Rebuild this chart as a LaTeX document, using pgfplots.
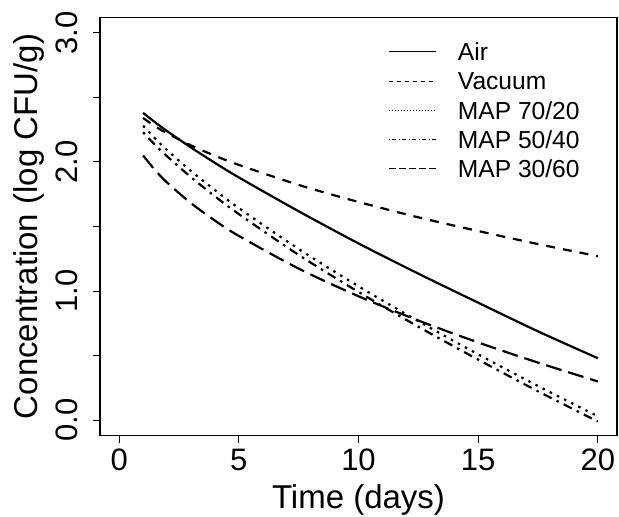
\documentclass[border=0pt]{standalone}
\usepackage{fontspec}
\setmainfont{Liberation Sans}
\usepackage{graphicx}
\usepackage{pgfplots}
\pgfplotsset{compat=1.18}
\begin{document}
\begin{tikzpicture}
\useasboundingbox (0pt,0pt) rectangle (619pt,517pt);
\begin{axis}[
  at={(100pt,81.3pt)}, anchor=south west,
  scale only axis, width=517pt, height=418.4pt,
  xmin=-0.8, xmax=20.8, ymin=-0.12, ymax=3.12,
  axis line style={line width=1.1pt, black},
  tick pos=left, tick align=outside,
  major tick length=7.5pt,
  tick style={line width=1.1pt, black},
  xtick={0,5,10,15,20},
  ytick={0,0.5,1,1.5,2,2.5,3},
  yticklabels={\rotatebox{90}{0.0},,\rotatebox{90}{1.0},,\rotatebox{90}{2.0},,\rotatebox{90}{3.0}},
  /pgf/number format/assume math mode=true,
  ticklabel style={font=\fontsize{31pt}{37pt}\selectfont, inner sep=0pt},
  xticklabel style={anchor=north},
  yticklabel style={anchor=east},
  xticklabel shift=5.8pt,
  yticklabel shift=14.5pt,
  xlabel={Time (days)},
  ylabel={Concentration (log CFU/g)},
  label style={font=\fontsize{33pt}{40pt}\selectfont, inner sep=0pt},
  xlabel style={at={(axis description cs:0.5,-0.1728)}, anchor=base},
  ylabel style={at={(axis description cs:-0.1209,0.5)}, anchor=base},
  legend style={draw=none, fill=none, inner sep=0pt,
    at={(rel axis cs:0.5571,0.9388)}, anchor=north west,
    font=\fontsize{24.6pt}{29pt}\selectfont,
    row sep=11.55pt, column sep=21.7pt,
    nodes={inner sep=0pt, text height=17.6pt, text depth=0pt, anchor=west}},
  legend image code/.code={\draw[#1] (0pt,0pt) -- (47pt,0pt);},
]
% Air
\addplot[forget plot, black, line width=2.2pt, smooth] coordinates {
 (1,2.38) (1.5,2.307) (2,2.239) (3,2.112) (4,1.993) (5,1.880) (7.5,1.618) (10,1.369)
 (12.5,1.135) (15,0.910) (17.5,0.688) (20,0.480)};
% Vacuum
\addplot[forget plot, black, line width=2.2pt, smooth, dash pattern=on 9pt off 8pt] coordinates {
 (1,2.34) (1.5,2.276) (2,2.222) (3,2.128) (4,2.048) (5,1.977) (7.5,1.822) (10,1.690)
 (12.5,1.571) (15,1.465) (17.5,1.364) (20,1.270)};
% MAP 70/20
\addplot[forget plot, black, line width=2.2pt, smooth, dash pattern=on 2.5pt off 5.5pt] coordinates {
 (1,2.28) (1.5,2.182) (2,2.092) (3,1.930) (4,1.782) (5,1.643) (7.5,1.326) (10,1.037)
 (12.5,0.767) (15,0.510) (17.5,0.265) (20,0.030)};
% MAP 50/40
\addplot[forget plot, black, line width=2.2pt, smooth, dash pattern=on 2.5pt off 5.5pt on 9pt off 5.5pt] coordinates {
 (1,2.23) (1.5,2.132) (2,2.044) (3,1.882) (4,1.734) (5,1.596) (7.5,1.280) (10,0.993)
 (12.5,0.724) (15,0.469) (17.5,0.224) (20,-0.010)};
% MAP 30/60
\addplot[forget plot, black, line width=2.2pt, smooth, dash pattern=on 16pt off 7pt] coordinates {
 (1,2.05) (1.5,1.937) (2,1.841) (3,1.681) (4,1.546) (5,1.427) (7.5,1.174) (10,0.960)
 (12.5,0.772) (15,0.602) (17.5,0.446) (20,0.300)};
\addlegendimage{black, line width=1pt}
\addlegendentry{Air}
\addlegendimage{black, line width=1pt, dash pattern=on 4pt off 4pt}
\addlegendentry{Vacuum}
\addlegendimage{black, line width=1pt, dash pattern=on 1pt off 2pt}
\addlegendentry{MAP 70/20}
\addlegendimage{black, line width=1pt, dash pattern=on 1pt off 2.5pt on 4pt off 2.5pt}
\addlegendentry{MAP 50/40}
\addlegendimage{black, line width=1pt, dash pattern=on 7pt off 3pt}
\addlegendentry{MAP 30/60}
\end{axis}
\end{tikzpicture}
\end{document}
